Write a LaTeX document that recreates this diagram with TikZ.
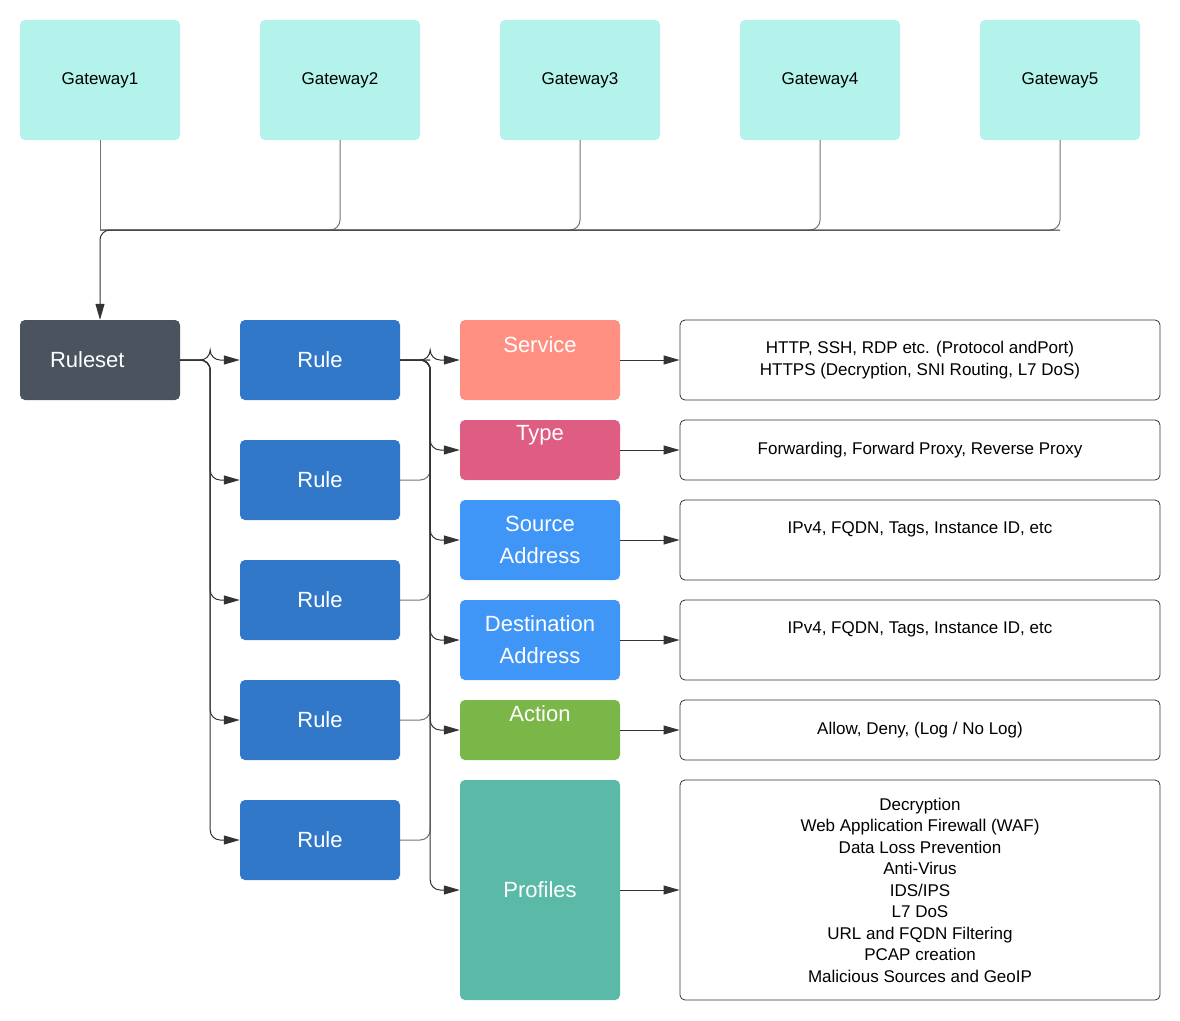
\documentclass[tikz,border=0pt]{standalone}
\usepackage{fontspec}
\setmainfont{Liberation Sans}
\usetikzlibrary{arrows.meta}
\definecolor{gw}{HTML}{B3F3EB}
\definecolor{rs}{HTML}{4A535E}
\definecolor{ru}{HTML}{3178C9}
\definecolor{sv}{HTML}{FF8F80}
\definecolor{ty}{HTML}{DF5C82}
\definecolor{ad}{HTML}{4096F7}
\definecolor{ac}{HTML}{7AB648}
\definecolor{pr}{HTML}{5BB9A8}
\definecolor{ln}{HTML}{333333}
\tikzset{x=1pt,y=-1pt,
 box/.style={rounded corners=5pt,minimum width=160pt,inner sep=0pt,align=center},
 gwbox/.style={box,fill=gw,minimum height=120pt,font=\fontsize{17}{20}\selectfont},
 wbox/.style={box,fill=#1,text=white,font=\fontsize{22}{32}\selectfont},
 desc/.style={box,draw=ln,line width=0.8pt,minimum width=480pt,font=\fontsize{17}{21.5}\selectfont},
 con/.style={draw=ln,line width=1pt,rounded corners=10pt,-{Triangle[length=16pt,width=9pt]}},
 fcon/.style={draw=gray!90!black,line width=1pt,rounded corners=10pt},
}
\begin{document}
\begin{tikzpicture}
\useasboundingbox (0,0) rectangle (1180,1020);
\foreach \i in {1,...,5}{
 \node[gwbox] (g\i) at ({100+240*(\i-1)},80) {Gateway\i};
}
\node[wbox=rs,minimum height=80pt,anchor=center,text width=150pt,align=left] (rs) at (100,360) {\hspace*{25pt}Ruleset};
\foreach \i/\y in {1/360,2/480,3/600,4/720,5/840}{
 \node[wbox=ru,minimum height=80pt] (r\i) at (320,\y) {Rule};
}
\node[wbox=sv,minimum height=80pt] (sv) at (540,360) {\raisebox{0pt}{Service}\\[-10pt]\strut};
\node[wbox=ty,minimum height=60pt] (ty) at (540,450) {Type\\[-8pt]\strut};
\node[wbox=ad,minimum height=80pt] (sa) at (540,540) {Source\\Address};
\node[wbox=ad,minimum height=80pt] (da) at (540,640) {Destination\\Address};
\node[wbox=ac,minimum height=60pt] (ac) at (540,730) {Action\\[-8pt]\strut};
\node[wbox=pr,minimum height=220pt] (pr) at (540,890) {Profiles};
\node[desc,minimum height=80pt] (d1) at (920,360) {HTTP, SSH, RDP etc. (Protocol andPort)\\HTTPS (Decryption, SNI Routing, L7 DoS)};
\node[desc,minimum height=60pt] (d2) at (920,450) {Forwarding, Forward Proxy, Reverse Proxy};
\node[desc,minimum height=80pt] (d3) at (920,540) {IPv4, FQDN, Tags, Instance ID, etc\\[-3pt]\strut};
\node[desc,minimum height=80pt] (d4) at (920,640) {IPv4, FQDN, Tags, Instance ID, etc\\[-3pt]\strut};
\node[desc,minimum height=60pt] (d5) at (920,730) {Allow, Deny, (Log / No Log)};
\node[desc,minimum height=220pt] (d6) at (920,890) {Decryption\\Web Application Firewall (WAF)\\Data Loss Prevention\\Anti-Virus\\IDS/IPS\\L7 DoS\\URL and FQDN Filtering\\PCAP creation\\Malicious Sources and GeoIP};
% gateways to ruleset
\foreach \i in {2,...,5}{\draw[fcon] (g\i.south) |- (rs.north |- 0,230);}
\draw[fcon] (g1.south) -- (rs.north |- 0,230);
\coordinate (bus) at (1060,230);
\draw[con] (bus) -| (rs.north);
% ruleset to rules
\foreach \i in {1,...,5}{\draw[con] (rs.east) -- ++(30,0) |- (r\i.west);}
% rules to attributes
\foreach \i in {2,...,5}{\draw[fcon] (r\i.east) -- ++(30,0) |- (r1.east -| 430,360);}
\foreach \t in {sv,ty,sa,da,ac,pr}{\draw[con] (r1.east) -- ++(30,0) |- (\t.west);}
% attributes to descriptions
\foreach \a/\d in {sv/d1,ty/d2,sa/d3,da/d4,ac/d5,pr/d6}{\draw[con] (\a.east) -- (\d.west);}
\end{tikzpicture}
\end{document}
